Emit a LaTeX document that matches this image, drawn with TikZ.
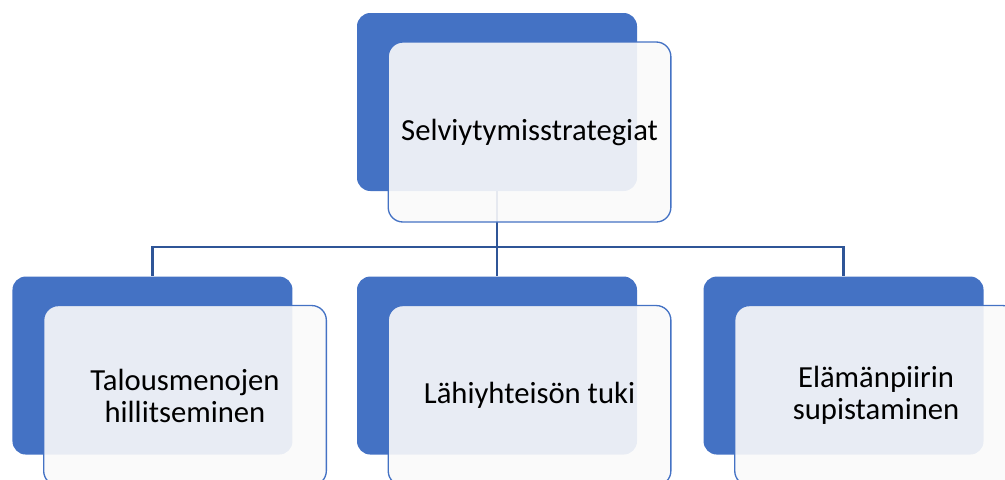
\documentclass[tikz,border=0pt]{standalone}
\usepackage{fontspec}
\setmainfont{Carlito}
\usetikzlibrary{calc,positioning}
\definecolor{officeblue}{HTML}{4472C4}
\definecolor{linkblue}{HTML}{2F5597}
\tikzset{
  back box/.style={
    fill=officeblue,
    rounded corners=10pt,
    inner sep=0pt,
    minimum width=210pt,
    minimum height=133.5pt
  },
  front box/.style={
    draw=officeblue,
    line width=1pt,
    fill=white!98!black,
    fill opacity=.9,
    text opacity=1,
    rounded corners=11pt,
    inner sep=0pt,
    minimum width=212pt,
    minimum height=135pt,
    align=center,
    font=\fontsize{23}{24}\selectfont
  },
  link/.style={draw=linkblue, line width=1.6pt}
}

\begin{document}
\begin{tikzpicture}
  \useasboundingbox (0,0) rectangle (753.75pt,-359.25pt);
  \clip (0,0) rectangle (753.75pt,-359.25pt);

  \node (strat_back) [back box] at (372.75pt,-76.5pt) {};
  \node (mid_back) [back box, below=63.75pt of strat_back] {};
  \node (left_back) [back box, left=48pt of mid_back] {};
  \node (right_back) [back box, right=49.5pt of mid_back] {};

  \coordinate (bar) at ($(strat_back.south)+(0,-42pt)$);
  \draw[link] (strat_back.south) -- (bar);
  \draw[link] (bar) -| (left_back.north);
  \draw[link] (bar) -- (mid_back.north);
  \draw[link] (bar) -| (right_back.north);

  \node (strat) [front box] at ([xshift=24.4pt,yshift=-22.5pt]strat_back) {Selviytymisstrategiat};
  \node (menot) [front box] at ([xshift=24.4pt,yshift=-22.5pt]left_back) {Talousmenojen\\hillitseminen};
  \node (tuki) [front box] at ([xshift=24.4pt,yshift=-22.5pt]mid_back) {Lähiyhteisön tuki};
  \node (piiri) [front box] at ([xshift=24.4pt,yshift=-22.5pt]right_back) {Elämänpiirin\\supistaminen};
\end{tikzpicture}
\end{document}
